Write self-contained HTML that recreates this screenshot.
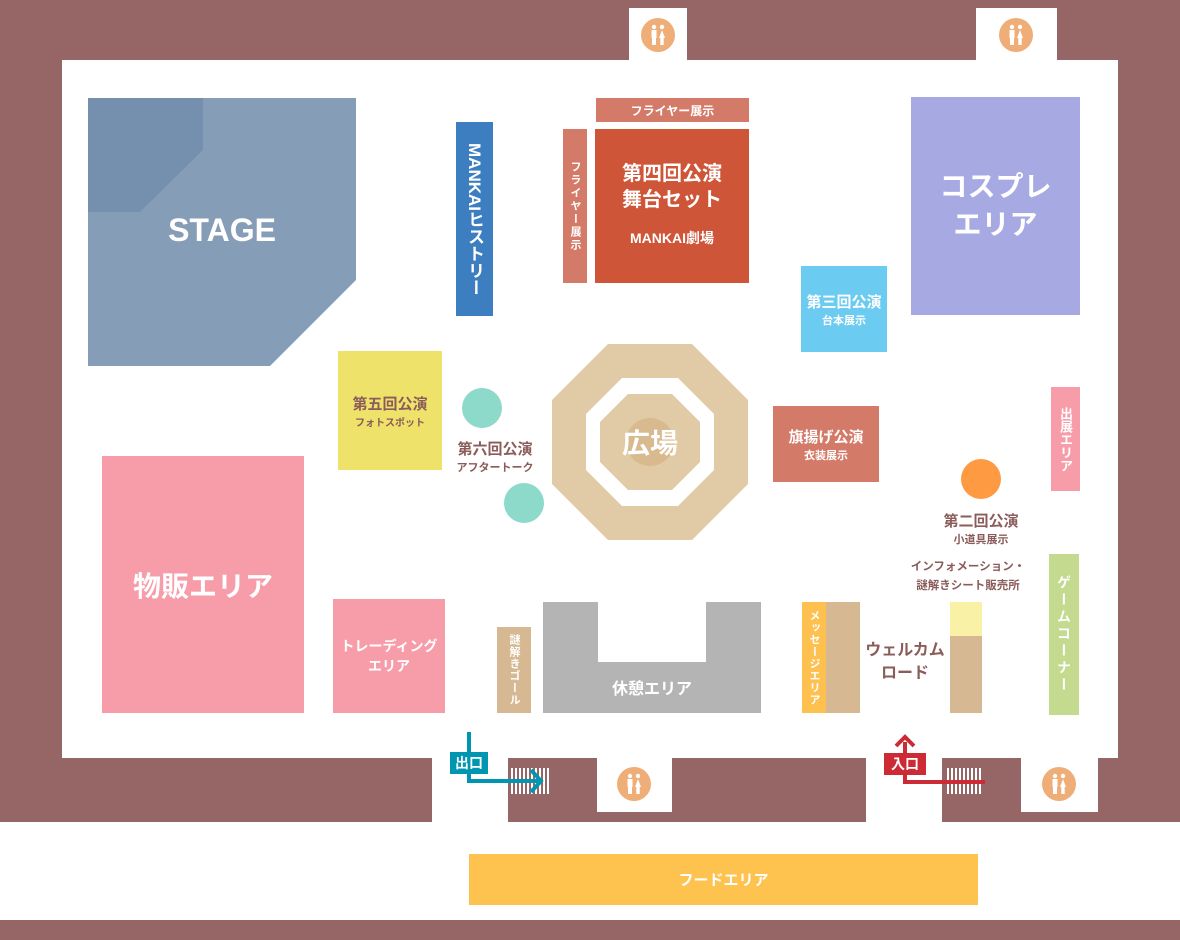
<!DOCTYPE html>
<html><head><meta charset="utf-8"><style>
body{margin:0;width:1180px;height:940px;position:relative;background:#956665;overflow:hidden;font-family:"Liberation Sans","Noto Sans CJK JP",sans-serif;font-weight:bold}
.a{position:absolute;box-sizing:border-box}
.w{background:#fff}
.c{display:flex;align-items:center;justify-content:center;text-align:center;color:#fff;flex-direction:column}
.v{writing-mode:vertical-rl;display:flex;align-items:center;justify-content:center;color:#fff}
.rr{position:absolute;width:34px;height:34px}
</style></head><body>
<div class="a w" style="left:62px;top:60px;width:1056px;height:698px"></div>
<div class="a w" style="left:629px;top:8px;width:58px;height:52px"></div>
<div class="a w" style="left:976px;top:8px;width:81px;height:52px"></div>
<div class="a w" style="left:0;top:822px;width:1180px;height:98px"></div>
<div class="a w" style="left:432px;top:750px;width:76px;height:80px"></div>
<div class="a w" style="left:597px;top:750px;width:75px;height:62px"></div>
<div class="a w" style="left:866px;top:750px;width:76px;height:80px"></div>
<div class="a w" style="left:1021px;top:750px;width:77px;height:62px"></div>

<svg class="a" style="left:0;top:0" width="1180" height="940">
<defs><g id="wc"><circle r="17" fill="#efad78"/><g fill="#fff"><circle cx="-4" cy="-8" r="2.2"/><circle cx="4" cy="-8" r="2.2"/><rect x="-6.5" y="-5" width="5" height="8"/><rect x="-6" y="3" width="4" height="7"/><polygon points="4,-5 7,3 1,3"/><rect x="2.3" y="3" width="3.4" height="7"/></g></g></defs>
<use href="#wc" x="658" y="35"/><use href="#wc" x="1016" y="35"/><use href="#wc" x="634" y="784"/><use href="#wc" x="1059" y="784"/>
<polygon points="88,98 356,98 356,280 270,366 88,366" fill="#869db8"/>
<polygon points="88,98 203,98 203,150 140,212 88,212" fill="#7590af"/>
<polygon points="608,344 692,344 748,400 748,484 692,540 608,540 552,484 552,400" fill="#e1cba6"/>
<polygon points="622,378 678,378 714,414 714,470 678,506 622,506 586,470 586,414" fill="#fff"/>
<polygon points="628,394 672,394 700,422 700,462 672,490 628,490 600,462 600,422" fill="#e1cba6"/>
<circle cx="650" cy="442" r="24" fill="#d9b98e"/>
<circle cx="482" cy="408" r="20" fill="#8ddacb"/>
<circle cx="524" cy="503" r="20" fill="#8ddacb"/>
<circle cx="981" cy="479" r="20" fill="#fe9b42"/>
<g stroke="#fff" stroke-width="2"><path d="M512 768v26M516 768v26M520 768v26M524 768v26M528 768v26M532 768v26M536 768v26M540 768v26M544 768v26M548 768v26"/>
<path d="M948 768v26M952 768v26M956 768v26M960 768v26M964 768v26M968 768v26M972 768v26M976 768v26M980 768v26"/></g>
<path d="M469 732V781H540M531 770l10 11-10 11" stroke="#0096b1" stroke-width="4" fill="none"/>
<path d="M905 742V782H985M896 746l9-9 9 9" stroke="#cc2b35" stroke-width="4" fill="none"/>
</svg>
<div class="a c" style="left:450px;top:752px;width:38px;height:22px;background:#0096b1;font-size:14px">出口</div>
<div class="a c" style="left:884px;top:753px;width:42px;height:22px;background:#cc2b35;font-size:14px">入口</div>

<div class="a c" style="left:88px;top:200px;width:268px;height:60px;font-size:32px">STAGE</div>
<div class="a v" style="left:456px;top:122px;width:37px;height:194px;background:#3c7ec0;font-size:17px">MANKAIヒストリー</div>
<div class="a c" style="left:596px;top:98px;width:153px;height:24px;background:#d47a68;font-size:12px">フライヤー展示</div>
<div class="a v" style="left:563px;top:129px;width:24px;height:154px;background:#d47a68;font-size:11px;letter-spacing:2px">フライヤー展示</div>
<div class="a c" style="left:595px;top:129px;width:154px;height:154px;background:#cf5539;font-size:20px;line-height:26px">第四回公演<br>舞台セット<span style="font-size:14px;margin-top:12px">MANKAI劇場</span></div>
<div class="a c" style="left:911px;top:97px;width:169px;height:218px;background:#a7a9e2;font-size:28px;line-height:38px">コスプレ<br>エリア</div>
<div class="a c" style="left:801px;top:266px;width:86px;height:86px;background:#6ccbf0;font-size:15px">第三回公演<span style="font-size:11px">台本展示</span></div>
<div class="a c" style="left:338px;top:351px;width:104px;height:119px;background:#eee26a;color:#8a5c5a;font-size:15px">第五回公演<span style="font-size:10px">フォトスポット</span></div>
<div class="a c" style="left:440px;top:436px;width:110px;height:40px;color:#8a5c5a;font-size:15px">第六回公演<span style="font-size:11px">アフタートーク</span></div>
<div class="a c" style="left:600px;top:420px;width:100px;height:44px;font-size:28px;color:#fff">広場</div>
<div class="a c" style="left:773px;top:406px;width:106px;height:76px;background:#d47a68;font-size:15px">旗揚げ公演<span style="font-size:11px">衣装展示</span></div>
<div class="a v" style="left:1051px;top:387px;width:29px;height:104px;background:#f79daa;font-size:13px">出展エリア</div>
<div class="a c" style="left:920px;top:508px;width:122px;height:40px;color:#8a5c5a;font-size:15px">第二回公演<span style="font-size:11px">小道具展示</span></div>
<div class="a c" style="left:102px;top:456px;width:202px;height:257px;background:#f79daa;font-size:28px">物販エリア</div>
<div class="a c" style="left:333px;top:599px;width:112px;height:114px;background:#f79daa;font-size:14px;line-height:20px">トレーディング<br>エリア</div>
<div class="a v" style="left:497px;top:627px;width:34px;height:86px;background:#d6b992;font-size:11px;letter-spacing:1px">謎解きゴール</div>
<svg class="a" style="left:543px;top:602px" width="218" height="111"><polygon points="0,0 55,0 55,60 163,60 163,0 218,0 218,111 0,111" fill="#b4b4b4"/></svg>
<div class="a c" style="left:543px;top:672px;width:218px;height:30px;font-size:16px">休憩エリア</div>
<div class="a v" style="left:802px;top:602px;width:24px;height:111px;background:#fec04f;font-size:11px;letter-spacing:1px">メッセージエリア</div>
<div class="a" style="left:826px;top:602px;width:34px;height:111px;background:#d6b992"></div>
<div class="a c" style="left:860px;top:638px;width:90px;height:48px;color:#8a5c5a;font-size:16px;line-height:23px">ウェルカム<br>ロード</div>
<div class="a" style="left:950px;top:602px;width:32px;height:34px;background:#f9f1a5"></div>
<div class="a" style="left:950px;top:636px;width:32px;height:77px;background:#d6b992"></div>
<div class="a c" style="left:900px;top:557px;width:136px;height:40px;color:#8a5c5a;font-size:11.5px;line-height:19px">インフォメーション・<br>謎解きシート販売所</div>
<div class="a v" style="left:1049px;top:554px;width:30px;height:161px;background:#c3da8f;font-size:14px;letter-spacing:3px">ゲームコーナー</div>
<div class="a c" style="left:469px;top:854px;width:509px;height:51px;background:#fec24f;font-size:15px">フードエリア</div>
</body></html>
